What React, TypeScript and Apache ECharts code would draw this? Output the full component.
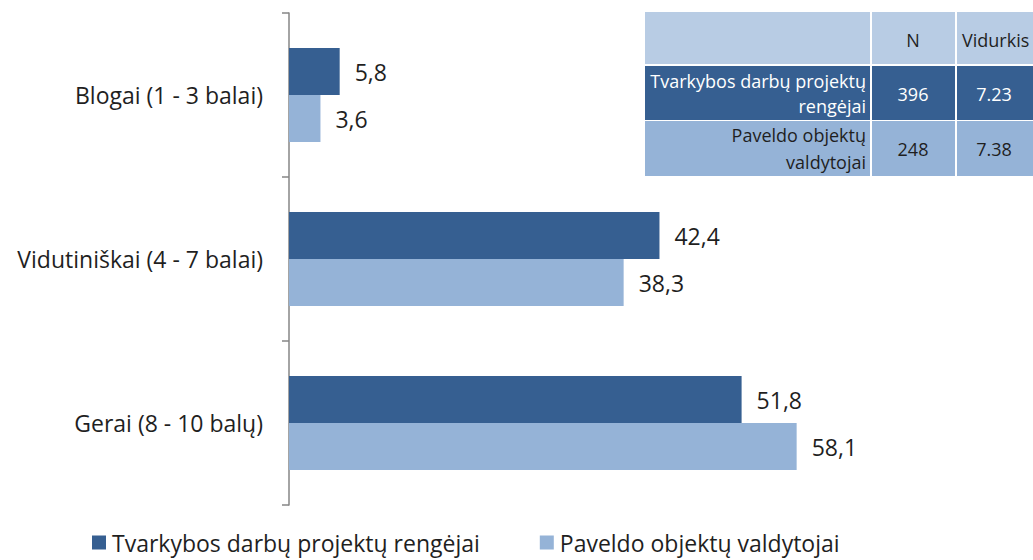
import React, { useEffect, useRef } from "react";
import * as echarts from "echarts";

const categories = ["Blogai (1 - 3 balai)", "Vidutiniškai (4 - 7 balai)", "Gerai (8 - 10 balų)"];
const seriesNames = ["Tvarkybos darbų projektų rengėjai", "Paveldo objektų valdytojai"];
const rengejai = [5.8, 42.4, 51.8];
const valdytojai = [3.6, 38.3, 58.1];
const tableHeader = ["", "N", "Vidurkis"];
const tableRowLabels = [["Tvarkybos darbų projektų", "rengėjai"], ["Paveldo objektų", "valdytojai"]];
const tableN = ["396", "248"];
const tableMean = ["7.23", "7.38"];

const DARK = "#365f91";
const LIGHT = "#95b3d7";
const HEAD = "#b8cce4";
const FONT = "'Open Sans', sans-serif";

export default function App() {
  const ref = useRef<HTMLDivElement>(null);
  useEffect(() => {
    if (!ref.current) return;
    const chart = echarts.init(ref.current, undefined, { renderer: "svg" });
    const fmt = (p: any) => String(p.value).replace(".", ",");
    const tx = 645, c1 = 870, c2 = 955;
    const rowY = [12, 66, 121, 176];
    const TF = `18px ${FONT}`;
    const g: any[] = [];
    const rowFills = [HEAD, DARK, LIGHT];
    for (let r = 0; r < 3; r++) {
      g.push({ type: "rect", shape: { x: tx, y: rowY[r], width: 400, height: rowY[r + 1] - rowY[r] }, style: { fill: rowFills[r] } });
    }
    g.push({ type: "rect", shape: { x: c1, y: 12, width: 2, height: 164 }, style: { fill: "#ffffff" } });
    g.push({ type: "rect", shape: { x: c2, y: 12, width: 2, height: 164 }, style: { fill: "#ffffff" } });
    g.push({ type: "rect", shape: { x: tx, y: 64, width: 400, height: 2 }, style: { fill: "#ffffff" } });
    g.push({ type: "rect", shape: { x: tx, y: 120, width: 400, height: 1 }, style: { fill: "#ffffff" } });
    g.push({ type: "text", x: 913, y: 40, style: { text: tableHeader[1], fill: "#1f1f1f", font: TF, align: "center", verticalAlign: "middle" } });
    g.push({ type: "text", x: 962, y: 40, style: { text: tableHeader[2], fill: "#1f1f1f", font: TF, align: "left", verticalAlign: "middle" } });
    const lineOff = [[15, 40], [14, 41]];
    for (let i = 0; i < 2; i++) {
      const top = rowY[i + 1];
      const col = i === 0 ? "#ffffff" : "#1f1f1f";
      g.push({ type: "text", x: 866, y: top + lineOff[i][0], style: { text: tableRowLabels[i][0], fill: col, font: TF, align: "right", verticalAlign: "middle" } });
      g.push({ type: "text", x: 866, y: top + lineOff[i][1], style: { text: tableRowLabels[i][1], fill: col, font: TF, align: "right", verticalAlign: "middle" } });
      g.push({ type: "text", x: 913, y: top + 28, style: { text: tableN[i], fill: col, font: TF, align: "center", verticalAlign: "middle" } });
      g.push({ type: "text", x: 994, y: top + 28, style: { text: tableMean[i], fill: col, font: TF, align: "center", verticalAlign: "middle" } });
    }
    chart.setOption({
      animation: false,
      backgroundColor: "#ffffff",
      textStyle: { fontFamily: FONT },
      grid: { left: 289, top: 13, bottom: 55, width: 699, containLabel: false },
      legend: {
        left: 87, top: 526, itemWidth: 14, itemHeight: 14, itemGap: 60, padding: [5, 5, 0, 5],
        icon: "rect",
        textStyle: { fontSize: 23, lineHeight: 22, color: "#1f1f1f", fontFamily: FONT, padding: [0, 0, 0, 1] },
        data: seriesNames,
      },
      xAxis: { type: "value", min: 0, max: 80, show: false },
      yAxis: {
        type: "category", inverse: true, data: categories,
        axisLine: { lineStyle: { color: "#868686", width: 1.5 } },
        axisTick: { show: true, length: 7, inside: false, lineStyle: { color: "#868686", width: 1.5 } },
        axisLabel: { fontSize: 23, color: "#1f1f1f", margin: 26, fontFamily: FONT },
      },
      series: [
        { name: seriesNames[0], type: "bar", data: rengejai, barWidth: 47, barGap: "0%", itemStyle: { color: DARK },
          label: { show: true, position: "right", distance: 15, fontSize: 23, color: "#1f1f1f", fontFamily: FONT, formatter: fmt } },
        { name: seriesNames[1], type: "bar", data: valdytojai, barWidth: 47, barGap: "0%", itemStyle: { color: LIGHT },
          label: { show: true, position: "right", distance: 15, fontSize: 23, color: "#1f1f1f", fontFamily: FONT, formatter: fmt } },
      ],
      graphic: g,
    });
    return () => chart.dispose();
  }, []);
  return <div ref={ref} style={{ width: 1033, height: 560, position: "absolute", left: 0, top: 0 }} />;
}
